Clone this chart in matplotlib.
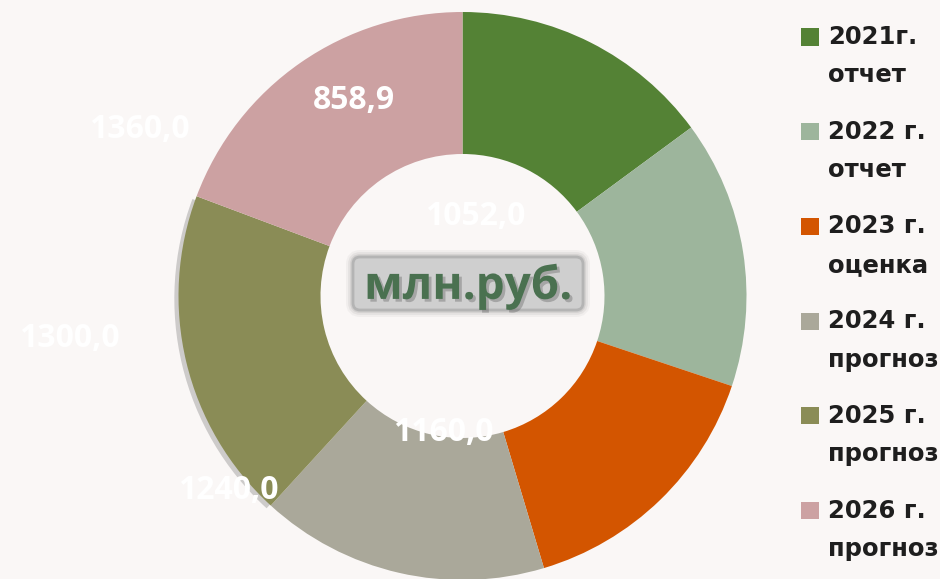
import numpy as np
import matplotlib
matplotlib.use("Agg")
import matplotlib.pyplot as plt
import matplotlib.patheffects as pe
from matplotlib.patches import Rectangle, FancyBboxPatch

categories = ["2021г.\nотчет", "2022 г.\nотчет", "2023 г.\nоценка",
              "2024 г.\nпрогноз", "2025 г.\nпрогноз", "2026 г.\nпрогноз"]
slice_values = [1052, 1076, 1076, 1160, 1336, 1362]
label_texts = ["858,9", "1052,0", "1160,0", "1240,0", "1300,0", "1360,0"]
colors = ["#548235", "#9DB59C", "#D35500", "#AAA89A", "#8A8C56", "#CCA1A2"]

# where the value labels sit (angle clockwise from top, distance in ring radii)
label_angles = [331.0, 9.0, 188.2, 230.4, 263.9, 297.3]
label_radii = [0.789, 0.282, 0.484, 1.072, 1.393, 1.282]

bg = "#FAF7F6"
W, H = 940, 579
fig = plt.figure(figsize=(W / 100, H / 100), dpi=100, facecolor=bg)

# ring centre (462.5, 296) px, radius 284 px
cx, cy, R = 462.5, 296, 284
ax = fig.add_axes([(cx - R) / W, (H - cy - R) / H, 2 * R / W, 2 * R / H])
ax.set_facecolor(bg)
wedges, _ = ax.pie(slice_values, colors=colors, startangle=90, counterclock=False,
                   radius=1, wedgeprops=dict(width=0.5, linewidth=0))
wedges[4].set_path_effects([pe.SimplePatchShadow(offset=(-3, -2), shadow_rgbFace="#666666", alpha=0.3),
                            pe.Normal()])
ax.set_xlim(-1, 1)
ax.set_ylim(-1, 1)
ax.set_aspect("equal")
ax.axis("off")

for txt, ang, r in zip(label_texts, label_angles, label_radii):
    t = np.deg2rad(ang)
    ax.text(r * np.sin(t), r * np.cos(t), txt, ha="center", va="center",
            color="white", fontsize=23, fontweight="bold", family=["Open Sans", "DejaVu Sans"],
            clip_on=False)

# centre caption: grey box with a soft rim, then the text
bx0, bx1 = (353 - cx) / R, (583 - cx) / R
by0, by1 = (cy - 310) / R, (cy - 257) / R
for lw, a in [(10, 0.08), (7, 0.12), (4, 0.2)]:
    ax.add_patch(FancyBboxPatch((bx0, by0), bx1 - bx0, by1 - by0,
                                boxstyle="round,pad=0,rounding_size=0.025",
                                fc="none", ec="#888888", lw=lw, alpha=a))
ax.add_patch(FancyBboxPatch((bx0, by0), bx1 - bx0, by1 - by0,
                            boxstyle="round,pad=0,rounding_size=0.025",
                            fc="#CFCFCF", ec="#B4B4B4", lw=2))
ax.text(0.021, 0.035, "млн.руб.", ha="center", va="center", color="#4A7150",
        fontsize=33, fontweight="bold", family=["Open Sans", "DejaVu Sans"],
        path_effects=[pe.withSimplePatchShadow(offset=(2, -2), shadow_rgbFace="#666666", alpha=0.4)])

# legend, drawn by hand so the swatch lines up with the first line
for i, (lab, col) in enumerate(zip(categories, colors)):
    yc = 37 + i * 94.7
    fig.patches.append(Rectangle((801 / W, 1 - (yc + 8.5) / H), 18 / W, 17 / H,
                                 transform=fig.transFigure, fc=col, ec="none"))
    first, second = lab.split("\n")
    fig.text(828 / W, 1 - yc / H, first, ha="left", va="center",
             fontsize=17.5, fontweight="bold", color="#1E1E1E", family="DejaVu Sans")
    fig.text(828 / W, 1 - (yc + 38.5) / H, second, ha="left", va="center",
             fontsize=17.5, fontweight="bold", color="#1E1E1E", family="DejaVu Sans")

fig.savefig("out.png", dpi=100, facecolor=bg)
